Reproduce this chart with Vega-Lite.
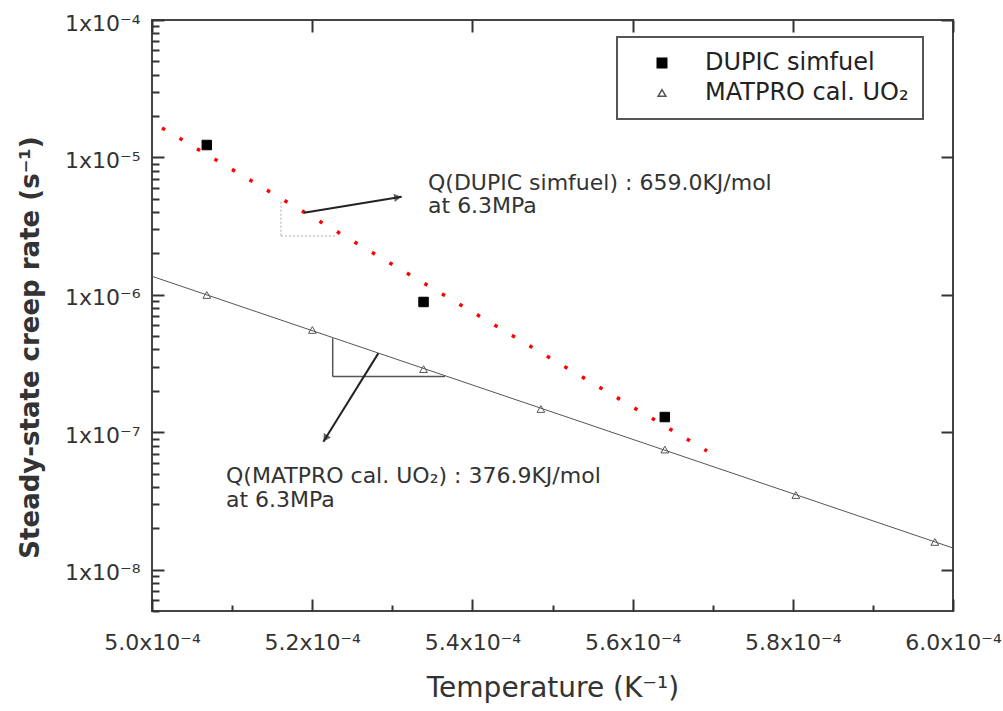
{
  "$schema": "https://vega.github.io/schema/vega-lite/v6.json",
  "autosize": {"type": "none"},
  "padding": {"left": 152, "top": 20, "right": 50, "bottom": 100},
  "width": 801,
  "height": 591,
  "background": "white",
  "datasets": {
    "fit": [
      {"invT": 0.0005, "rate": 1.364e-6},
      {"invT": 0.0006, "rate": 1.437e-8}
    ],
    "dupicfit": [
      {"invT": 0.00050125, "rate": 1.64e-5},
      {"invT": 0.00056929, "rate": 7.30e-8}
    ],
    "points": [
      {"series": "DUPIC simfuel", "invT": 0.00050684, "rate": 1.231e-5},
      {"series": "DUPIC simfuel", "invT": 0.00053390, "rate": 8.87e-7},
      {"series": "DUPIC simfuel", "invT": 0.00056402, "rate": 1.29e-7},
      {"series": "MATPRO cal. UO₂", "invT": 0.00050684, "rate": 9.97e-7},
      {"series": "MATPRO cal. UO₂", "invT": 0.00052002, "rate": 5.55e-7},
      {"series": "MATPRO cal. UO₂", "invT": 0.00053390, "rate": 2.88e-7},
      {"series": "MATPRO cal. UO₂", "invT": 0.00054855, "rate": 1.476e-7},
      {"series": "MATPRO cal. UO₂", "invT": 0.00056402, "rate": 7.48e-8},
      {"series": "MATPRO cal. UO₂", "invT": 0.00058038, "rate": 3.49e-8},
      {"series": "MATPRO cal. UO₂", "invT": 0.00059773, "rate": 1.59e-8}
    ],
    "slopeDupic": [
      {"x1": 0.0005161, "y1": 4.76e-6, "x2": 0.0005161, "y2": 2.68e-6},
      {"x1": 0.0005161, "y1": 2.68e-6, "x2": 0.00052285, "y2": 2.68e-6}
    ],
    "slopeMatpro": [
      {"x1": 0.00052256, "y1": 4.83e-7, "x2": 0.00052256, "y2": 2.54e-7},
      {"x1": 0.00052256, "y1": 2.54e-7, "x2": 0.00053658, "y2": 2.54e-7}
    ],
    "arrows": [
      {"x1": 0.00051898, "y1": 3.96e-6, "x2": 0.00053117, "y2": 5.18e-6},
      {"x1": 0.00052825, "y1": 3.75e-7, "x2": 0.00052139, "y2": 8.53e-8}
    ],
    "notes": [
      {"invT": 0.00053446, "rate": 5.79e-6, "label": "Q(DUPIC simfuel) : 659.0KJ/mol"},
      {"invT": 0.00053446, "rate": 3.94e-6, "label": "at 6.3MPa"},
      {"invT": 0.00050924, "rate": 4.27e-8, "label": "Q(MATPRO cal. UO₂) : 376.9KJ/mol"},
      {"invT": 0.00050924, "rate": 2.86e-8, "label": "at 6.3MPa"}
    ]
  },
  "resolve": {"axis": {"x": "independent", "y": "independent"}},
  "layer": [
    {
      "data": {"name": "fit"},
      "mark": {"type": "line", "color": "#555555", "strokeWidth": 1},
      "encoding": {
        "x": {"field": "invT", "type": "quantitative",
          "scale": {"domain": [0.0005, 0.0006], "nice": false, "zero": false},
          "axis": {"orient": "bottom", "ticks": false, "values": [0.0005, 0.00052, 0.00054, 0.00056, 0.00058, 0.0006],
            "labelExpr": "format(datum.value*10000, '.1f') + 'x10⁻⁴'", "labelFontSize": 22, "labelPadding": 21,
            "labelFlush": false, "labelOverlap": false, "labelBound": false,
            "title": "Temperature (K⁻¹)", "titleFontSize": 28, "titleFontWeight": "normal", "titlePadding": 21}},
        "y": {"field": "rate", "type": "quantitative",
          "scale": {"type": "log", "domain": [5e-9, 1e-4], "nice": false},
          "axis": {"orient": "left", "ticks": false, "values": [1e-8, 1e-7, 1e-6, 1e-5, 1e-4],
            "labelExpr": "datum.value > 5e-5 ? '1x10⁻⁴' : datum.value > 5e-6 ? '1x10⁻⁵' : datum.value > 5e-7 ? '1x10⁻⁶' : datum.value > 5e-8 ? '1x10⁻⁷' : '1x10⁻⁸'",
            "labelFontSize": 22, "labelPadding": 12, "labelOffset": 3, "labelOverlap": false, "labelBound": false,
            "title": "Steady-state creep rate (s⁻¹)", "titleFontSize": 26, "titleFontWeight": "bold", "titlePadding": 21,
            "titleY": 327}}
      }
    },
    {
      "data": {"name": "dupicfit"},
      "mark": {"type": "line", "color": "#ff0000", "strokeWidth": 3.5, "strokeDash": [3.5, 16.84]},
      "encoding": {
        "x": {"field": "invT", "type": "quantitative",
          "scale": {"domain": [0.0005, 0.0006], "nice": false, "zero": false},
          "axis": {"orient": "bottom", "labels": false, "title": null, "tickSize": -12, "tickWidth": 2,
            "values": [0.0005, 0.00052, 0.00054, 0.00056, 0.00058, 0.0006]}},
        "y": {"field": "rate", "type": "quantitative",
          "scale": {"type": "log", "domain": [5e-9, 1e-4], "nice": false},
          "axis": {"orient": "left", "labels": false, "title": null, "tickSize": -12, "tickWidth": 2,
            "values": [1e-8, 1e-7, 1e-6, 1e-5, 1e-4]}}
      }
    },
    {
      "data": {"name": "slopeDupic"},
      "mark": {"type": "rule", "color": "#aaaaaa", "strokeWidth": 1, "strokeDash": [2, 2]},
      "encoding": {
        "x": {"field": "x1", "type": "quantitative",
          "scale": {"domain": [0.0005, 0.0006], "nice": false, "zero": false},
          "axis": {"orient": "bottom", "labels": false, "title": null, "tickSize": -6, "tickWidth": 2,
            "values": [0.00051, 0.00053, 0.00055, 0.00057, 0.00059]}},
        "y": {"field": "y1", "type": "quantitative",
          "scale": {"type": "log", "domain": [5e-9, 1e-4], "nice": false},
          "axis": {"orient": "left", "labels": false, "title": null, "tickSize": -7, "tickWidth": 2,
            "values": [5e-9, 6e-9, 7e-9, 8e-9, 9e-9, 2e-8, 3e-8, 4e-8, 5e-8, 6e-8, 7e-8, 8e-8, 9e-8, 2e-7, 3e-7, 4e-7, 5e-7, 6e-7, 7e-7, 8e-7, 9e-7, 2e-6, 3e-6, 4e-6, 5e-6, 6e-6, 7e-6, 8e-6, 9e-6, 2e-5, 3e-5, 4e-5, 5e-5, 6e-5, 7e-5, 8e-5, 9e-5]}},
        "x2": {"field": "x2"},
        "y2": {"field": "y2"}
      }
    },
    {
      "data": {"name": "slopeMatpro"},
      "mark": {"type": "rule", "color": "#555555", "strokeWidth": 1.5},
      "encoding": {
        "x": {"field": "x1", "type": "quantitative",
          "scale": {"domain": [0.0005, 0.0006], "nice": false, "zero": false},
          "axis": {"orient": "top", "labels": false, "title": null, "tickSize": -12, "tickWidth": 2,
            "values": [0.0005, 0.00052, 0.00054, 0.00056, 0.00058, 0.0006]}},
        "y": {"field": "y1", "type": "quantitative",
          "scale": {"type": "log", "domain": [5e-9, 1e-4], "nice": false},
          "axis": {"orient": "right", "labels": false, "title": null, "tickSize": -12, "tickWidth": 2,
            "values": [1e-8, 1e-7, 1e-6, 1e-5, 1e-4]}},
        "x2": {"field": "x2"},
        "y2": {"field": "y2"}
      }
    },
    {
      "data": {"name": "arrows"},
      "mark": {"type": "rule", "color": "#222222", "strokeWidth": 2},
      "encoding": {
        "x": {"field": "x1", "type": "quantitative", "axis": null},
        "y": {"field": "y1", "type": "quantitative", "axis": null},
        "x2": {"field": "x2"},
        "y2": {"field": "y2"}
      }
    },
    {
      "data": {"values": [{"invT": 0.00053068, "rate": 5.13e-6}]},
      "mark": {"type": "point", "shape": "triangle-right", "filled": true, "color": "#222222", "size": 70, "angle": -9},
      "encoding": {
        "x": {"field": "invT", "type": "quantitative", "axis": null},
        "y": {"field": "rate", "type": "quantitative", "axis": null}
      }
    },
    {
      "data": {"values": [{"invT": 0.00052165, "rate": 9.03e-8}]},
      "mark": {"type": "point", "shape": "triangle-right", "filled": true, "color": "#222222", "size": 70, "angle": 122},
      "encoding": {
        "x": {"field": "invT", "type": "quantitative", "axis": null},
        "y": {"field": "rate", "type": "quantitative", "axis": null}
      }
    },
    {
      "data": {"name": "points"},
      "mark": {"type": "point", "filled": true, "strokeWidth": 1, "opacity": 1},
      "encoding": {
        "x": {"field": "invT", "type": "quantitative", "axis": null},
        "y": {"field": "rate", "type": "quantitative", "axis": null},
        "shape": {"field": "series", "type": "nominal",
          "scale": {"domain": ["DUPIC simfuel", "MATPRO cal. UO₂"], "range": ["square", "triangle-up"]}},
        "fill": {"field": "series", "type": "nominal",
          "scale": {"domain": ["DUPIC simfuel", "MATPRO cal. UO₂"], "range": ["#000000", "transparent"]}},
        "stroke": {"field": "series", "type": "nominal",
          "scale": {"domain": ["DUPIC simfuel", "MATPRO cal. UO₂"], "range": ["#000000", "#555555"]}},
        "size": {"field": "series", "type": "nominal",
          "scale": {"domain": ["DUPIC simfuel", "MATPRO cal. UO₂"], "range": [90, 60]}}
      }
    },
    {
      "data": {"name": "notes"},
      "mark": {"type": "text", "align": "left", "baseline": "alphabetic", "font": "DejaVu Sans", "fontSize": 22, "color": "#333333"},
      "encoding": {
        "x": {"field": "invT", "type": "quantitative", "axis": null},
        "y": {"field": "rate", "type": "quantitative", "axis": null},
        "text": {"field": "label"}
      }
    }
  ],
  "config": {
    "view": {"stroke": "#444444", "strokeWidth": 2},
    "font": "DejaVu Sans",
    "axis": {"grid": false, "domain": false, "labelFont": "DejaVu Sans", "titleFont": "DejaVu Sans",
      "labelColor": "#333333", "titleColor": "#333333", "tickColor": "#333333"},
    "legend": {"orient": "none", "legendX": 465, "legendY": 17, "title": null,
      "strokeColor": "#555555", "strokeWidth": 2, "fillColor": "white", "padding": 14,
      "labelFont": "DejaVu Sans", "labelFontSize": 24, "labelColor": "#222222", "labelLimit": 400,
      "symbolOffset": 19, "labelOffset": 31, "rowPadding": 6}
  }
}
